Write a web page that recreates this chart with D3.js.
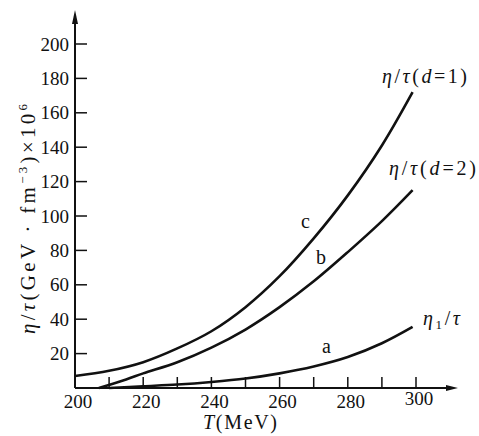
<!DOCTYPE html>
<html>
<head>
<meta charset="utf-8">
<script src="https://cdn.jsdelivr.net/npm/d3@7"></script>
<style>
  body { margin: 0; background: #fff; }
  text { font-family: "Liberation Serif", "DejaVu Serif", serif; fill: #111; }
</style>
</head>
<body>
<script>
// values
var yTicks = [20, 40, 60, 80, 100, 120, 140, 160, 180, 200];
var xTicks = [210, 220, 230, 240, 250, 260, 270, 280, 290, 300];
var xLabels = [200, 220, 240, 260, 280, 300];

// curve c : eta/tau (d=1)
var tC = [200, 210, 220, 230, 240, 250, 260, 270, 280, 290, 299];
var vC = [7, 10, 15, 23, 33, 47, 65, 87, 112, 141, 172];

// curve b : eta/tau (d=2)
var tB = [207, 215, 220, 230, 240, 250, 260, 270, 280, 290, 299];
var vB = [0, 5, 8.5, 15, 23.5, 34, 47, 62, 79, 97, 115];

// curve a : eta_1/tau
var tA = [210, 220, 230, 240, 250, 260, 270, 280, 290, 299];
var vA = [0, 1, 2, 3.5, 5.5, 8.5, 12.5, 18, 26, 35.5];

var w = 479, h = 436;

var x = d3.scaleLinear().domain([200, 300]).range([75, 416]);
var y = d3.scaleLinear().domain([0, 200]).range([388, 44]);

var svg = d3.select("body").append("svg").attr("width", w).attr("height", h);

// axes lines
svg.append("line").attr("x1", x(200)).attr("x2", 452)
  .attr("y1", y(0)).attr("y2", y(0))
  .attr("stroke", "#111").attr("stroke-width", 2);
svg.append("line").attr("x1", x(200)).attr("x2", x(200))
  .attr("y1", y(0)).attr("y2", 16)
  .attr("stroke", "#111").attr("stroke-width", 2);

// arrow heads
svg.append("path").attr("d", "M458," + y(0) + " L446," + (y(0) - 3) + " L446," + (y(0) + 3) + "Z").attr("fill", "#111");
svg.append("path").attr("d", "M" + x(200) + ",10 L" + (x(200) - 3) + ",24 L" + (x(200) + 3) + ",24Z").attr("fill", "#111");

// y ticks
svg.selectAll(".ytick").data(yTicks).enter().append("line")
  .attr("x1", x(200)).attr("x2", x(200) + 12)
  .attr("y1", function(d) { return y(d); }).attr("y2", function(d) { return y(d); })
  .attr("stroke", "#111").attr("stroke-width", 1.5);
svg.selectAll(".ylab").data(yTicks).enter().append("text")
  .attr("x", 69).attr("y", function(d) { return y(d); })
  .attr("dy", "0.35em").attr("text-anchor", "end")
  .style("font-size", "19px")
  .text(function(d) { return d; });

// x ticks
svg.selectAll(".xtick").data(xTicks).enter().append("line")
  .attr("x1", function(d) { return x(d); }).attr("x2", function(d) { return x(d); })
  .attr("y1", y(0)).attr("y2", y(0) - 11)
  .attr("stroke", "#111").attr("stroke-width", 1.5);
svg.selectAll(".xlab").data(xLabels).enter().append("text")
  .attr("x", function(d) { return x(d) + 3; }).attr("y", function(d) { return d == 300 ? 405 : 408; })
  .attr("text-anchor", "middle")
  .style("font-size", "19px")
  .text(function(d) { return d; });

// axis titles
svg.append("text").attr("x", 203).attr("y", 429)
  .attr("textLength", 74).attr("lengthAdjust", "spacing")
  .style("font-size", "20px")
  .html('<tspan font-style="italic">T</tspan>(MeV)');

svg.append("text").attr("transform", "translate(35,334) rotate(-90)")
  .attr("textLength", 230).attr("lengthAdjust", "spacing")
  .style("font-size", "21px")
  .html('<tspan font-style="italic">η</tspan>/<tspan font-style="italic">τ</tspan>(GeV · fm<tspan dy="-8" font-size="13px">−3</tspan><tspan dy="8">)×10</tspan><tspan dy="-8" font-size="13px">6</tspan>');

// curves
var line = d3.line().curve(d3.curveCatmullRom.alpha(0.5))
  .x(function(d) { return x(d[0]); }).y(function(d) { return y(d[1]); });

function series(ts, vs) { return ts.map(function(t, i) { return [t, vs[i]]; }); }

[[tC, vC], [tB, vB], [tA, vA]].forEach(function(s) {
  svg.append("path").attr("d", line(series(s[0], s[1])))
    .attr("fill", "none").attr("stroke", "#111").attr("stroke-width", 2.6);
});

// curve labels
function label(xp, yp, len, html, size) {
  var t = svg.append("text").attr("x", xp).attr("y", yp).style("font-size", size || "20px").html(html);
  if (len) t.attr("textLength", len).attr("lengthAdjust", "spacing");
}
label(382, 83, 85, '<tspan font-style="italic">η</tspan>/<tspan font-style="italic">τ</tspan>(<tspan font-style="italic">d</tspan>=1)');
label(389, 175, 87, '<tspan font-style="italic">η</tspan>/<tspan font-style="italic">τ</tspan>(<tspan font-style="italic">d</tspan>=2)');
label(423, 325, 37, '<tspan font-style="italic">η</tspan><tspan dy="4" font-size="13px">1</tspan><tspan dy="-4">/</tspan><tspan font-style="italic">τ</tspan>');
label(301, 228, 0, 'c');
label(316, 264, 0, 'b');
label(322, 353, 0, 'a');
</script>
</body>
</html>
